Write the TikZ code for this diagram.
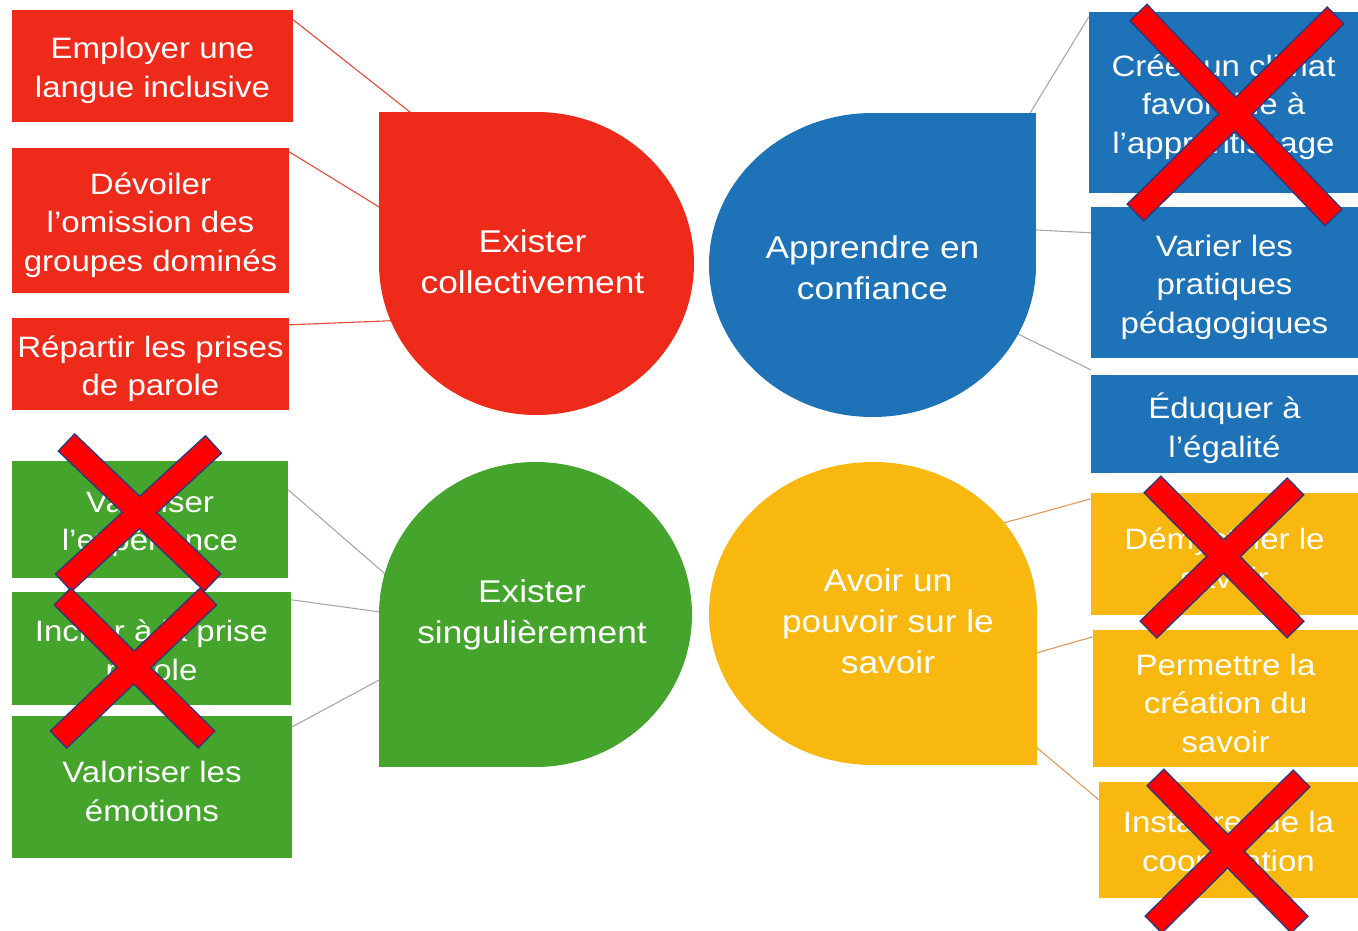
\documentclass[tikz,border=0pt]{standalone}
\usepackage{fontspec}
\setmainfont{Liberation Sans}[FakeStretch=1.12]
\usetikzlibrary{shapes.geometric,calc}
\pgfdeclarelayer{bg}
\pgfsetlayers{bg,main}
\definecolor{redc}{HTML}{EE2A1B}
\definecolor{bluec}{HTML}{1E72B8}
\definecolor{greenc}{HTML}{45A42C}
\definecolor{yellowc}{HTML}{F8B80F}
\definecolor{crossred}{HTML}{FF0000}
\definecolor{crossedge}{HTML}{2B3A80}
\definecolor{linkred}{HTML}{E8493A}
\definecolor{linkgray}{HTML}{A8A8A8}
\definecolor{linkorange}{HTML}{E49A5A}
\newcommand\drawcross[4]{%
  \draw[crossout] #1 -- #2;
  \draw[crossout] #3 -- #4;
  \draw[crossin] #1 -- #2;
  \draw[crossin] #3 -- #4;}
\begin{document}
\begin{tikzpicture}[x=1pt,y=-1pt,
  box/.style={rectangle, inner sep=0pt},
  boxtext/.style={inner sep=0pt, text=white, align=center,
    font=\fontsize{29.5}{38.5}\selectfont},
  blob/.style={ellipse, inner sep=0pt},
  blobtext/.style={text=white, align=center, font=\fontsize{31.5}{41}\selectfont},
  link/.style={line width=1.1pt},
  crossout/.style={line width=25pt, draw=crossedge},
  crossin/.style={line width=22pt, draw=crossred, shorten <=1.5pt, shorten >=1.5pt},
]
\useasboundingbox (0,0) rectangle (1358,930);

% ---- red group
\node[box, fill=redc, minimum width=281, minimum height=112] (e1) at (152.5,66) {};
\node[boxtext] (e1t) at ([yshift=-4.5pt]e1.center) {Employer une\\langue inclusive};
\node[box, fill=redc, minimum width=277, minimum height=145] (e2) at (150.5,220.5) {};
\node[boxtext] (e2t) at ([yshift=-4.5pt]e2.center) {Dévoiler\\l’omission des\\groupes dominés};
\node[box, fill=redc, minimum width=277, minimum height=92] (e3) at (150.5,364) {};
\node[boxtext] (e3t) at ([yshift=-4.5pt]e3.center) {Répartir les prises\\de parole};
\node[blob, fill=redc, minimum width=315, minimum height=303] (rbl) at (536.5,263.5) {};
\node[blobtext] (rtx) at ($(rbl.center)+(-4,-2)$) {Exister\\collectivement};

% ---- blue group
\node[box, fill=bluec, minimum width=269, minimum height=181] (b1) at (1223.5,102.5) {};
\node[boxtext] (b1t) at ([yshift=-4.5pt]b1.center) {Créer un climat\\favorable à\\l’apprentissage};
\node[box, fill=bluec, minimum width=267, minimum height=151] (b2) at (1224.5,282.5) {};
\node[boxtext] (b2t) at ([yshift=-4.5pt]b2.center) {Varier les\\pratiques\\pédagogiques};
\node[box, fill=bluec, minimum width=267, minimum height=98] (b3) at (1224.5,424) {};
\node[boxtext] (b3t) at ([yshift=-4.5pt]b3.center) {Éduquer à\\l’égalité};
\node[blob, fill=bluec, minimum width=327, minimum height=304] (bbl) at (872.5,265) {};
\node[blobtext] (btx) at ($(bbl.center)+(0,3)$) {Apprendre en\\confiance};

% ---- green group
\node[box, fill=greenc, minimum width=276, minimum height=117] (g1) at (150,519.5) {};
\node[boxtext] (g1t) at ([yshift=-4.5pt]g1.center) {Valoriser\\l’expérience};
\node[box, fill=greenc, minimum width=279, minimum height=113] (g2) at (151.5,648.5) {};
\node[boxtext] (g2t) at ([yshift=-4.5pt]g2.center) {Inciter à la prise\\parole};
\node[box, fill=greenc, minimum width=280, minimum height=142] (g3) at (152,787) {};
\node[boxtext] (g3t) at ([yshift=-4.5pt]g3.center) {Valoriser les\\émotions};
\node[blob, fill=greenc, minimum width=313, minimum height=305] (gbl) at (535.5,614.5) {};
\node[blobtext] (gtx) at ($(gbl.center)+(-3.5,0)$) {Exister\\singulièrement};

% ---- yellow group
\node[box, fill=yellowc, minimum width=267, minimum height=122] (y1) at (1224.5,554) {};
\node[boxtext] (y1t) at ([yshift=-4.5pt]y1.center) {Démystifier le\\savoir};
\node[box, fill=yellowc, minimum width=265, minimum height=137] (y2) at (1225.5,698.5) {};
\node[boxtext] (y2t) at ([yshift=-4.5pt]y2.center) {Permettre la\\création du\\savoir};
\node[box, fill=yellowc, minimum width=259, minimum height=116] (y3) at (1228.5,840) {};
\node[boxtext] (y3t) at ([yshift=-4.5pt]y3.center) {Instaurer de la\\coopération};
\node[blob, fill=yellowc, minimum width=328, minimum height=303] (ybl) at (873,613.5) {};
\node[blobtext] (ytx) at ($(ybl.center)+(15,7.5)$) {Avoir un\\pouvoir sur le\\savoir};

\begin{pgfonlayer}{bg}
  \fill[white] (0,0) rectangle (1358,930);
  % connectors
  \draw[link, linkred] ([yshift=-10pt]e1.north east) -- ($(rbl.center)+(-121.5,-147.5)$);
  \draw[link, linkred] ([yshift=-4pt]e2.north east) -- ($(rbl.center)+(-150,-52)$);
  \draw[link, linkred] ([yshift=-7pt]e3.north east) -- ($(rbl.center)+(-140,57)$);
  \draw[link, linkgray] ([yshift=-5pt]b1.north west) -- ($(bbl.center)+(151.5,-142)$);
  \draw[link, linkgray] ([yshift=-26pt]b2.north west) -- ($(bbl.center)+(155,-35.5)$);
  \draw[link, linkgray] ([yshift=5pt]b3.north west) -- ($(bbl.center)+(143.5,68)$);
  \draw[link, linkgray] ([yshift=-29pt]g1.north east) -- ($(gbl.center)+(-144,-35)$);
  \draw[link, linkgray] ([yshift=-8pt]g2.north east) -- ($(gbl.center)+(-148,-1.5)$);
  \draw[link, linkgray] ([yshift=-11pt]g3.north east) -- ($(gbl.center)+(-148,61)$);
  \draw[link, linkorange] ([yshift=-6pt]y1.north west) -- ($(ybl.center)+(127,-89.5)$);
  \draw[link, linkorange] ([yshift=-7pt]y2.north west) -- ($(ybl.center)+(158,41)$);
  \draw[link, linkorange] ([yshift=-18pt]y3.north west) -- ($(ybl.center)+(157,128.5)$);
  % square corners of the drops
  \fill[redc] (rbl.west) rectangle (rbl.north);
  \fill[bluec] (bbl.north) rectangle (bbl.east);
  \fill[greenc] (gbl.west) rectangle (gbl.south);
  \fill[yellowc] (ybl.south) rectangle (ybl.east);
\end{pgfonlayer}

% ---- crosses
\drawcross{(1138,12)}{(1334,218)}{(1336,15)}{(1135,213)}
\drawcross{(66,442)}{(213,583)}{(214,444)}{(63,583)}
\drawcross{(62,596)}{(207,740)}{(209,596)}{(58,740)}
\drawcross{(1152,484)}{(1296,630)}{(1296,486)}{(1148,630)}
\drawcross{(1155,777)}{(1300,925)}{(1302,778)}{(1153,925)}
\end{tikzpicture}
\end{document}
